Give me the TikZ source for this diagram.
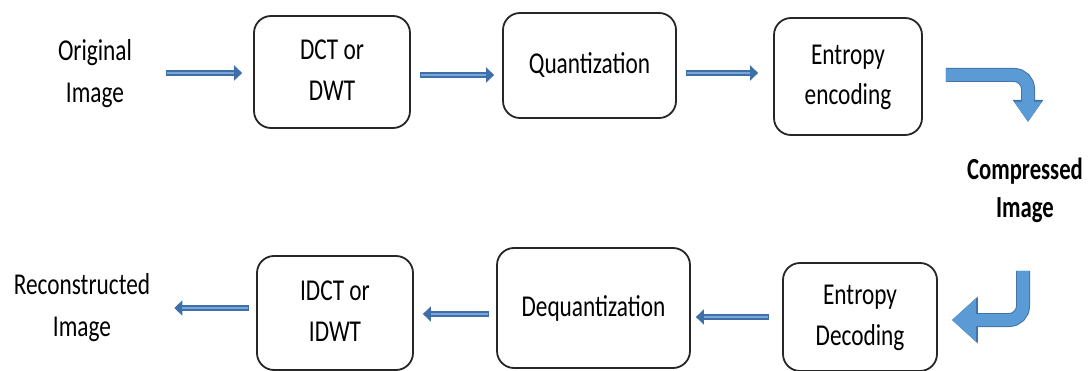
\documentclass[tikz,border=0pt]{standalone}
\usepackage{fontspec}
\setmainfont{Carlito}
\usetikzlibrary{arrows.meta}
\definecolor{arrD}{HTML}{3F6FA8}
\definecolor{arrL}{HTML}{7AA6D8}
\definecolor{bentF}{HTML}{5B9BD5}
\definecolor{bentD}{HTML}{4372A8}
\newcommand\lbl[2][1.3]{\scalebox{1}[#1]{\begin{tabular}{@{}c@{}}#2\end{tabular}}}
\tikzset{
  stage/.style={draw=black!85, line width=1.8pt, rounded corners=17pt, fill=white,
    inner sep=0pt, font=\fontsize{23.3}{31}\selectfont},
  plain/.style={inner sep=0pt, font=\fontsize{23.3}{32}\selectfont},
  thinarrow/.style 2 args={draw=arrD, line width=6pt, shorten <=#1, shorten >=#2,
    -{Triangle[length=8pt,width=15pt]},
    postaction={draw=arrL, line width=2.2pt, -, shorten <=#1+1pt, shorten >=#2+8pt}},
  bentarrow/.style 2 args={draw=bentF, line width=12pt, rounded corners=14pt,
    -{Triangle[length=#1,width=#2]},
    preaction={draw=bentD, line width=14pt, -{Triangle[length=#1+2pt,width=#2+3pt]}}},
}
\begin{document}
\begin{tikzpicture}[x=1pt,y=-1pt]
\useasboundingbox (0,0) rectangle (1092,371);
% top row
\node[plain] (orig) at (95,73) {\lbl{Original\\Image}};
\node[stage, minimum width=156pt, minimum height=112pt] (dct) at (332,72) {\lbl{DCT or\\DWT}};
\node[stage, minimum width=173pt, minimum height=105pt] (quant) at (589.5,65.5) {\lbl{Quantization}};
\node[stage, minimum width=148pt, minimum height=117pt] (enc) at (848,76.5) {\lbl{Entropy\\encoding}};
% middle
\node[plain, font=\fontsize{22.7}{28}\selectfont\bfseries] (comp) at (1025,191) {\lbl[1.35]{Compressed\\Image}};
% bottom row
\node[stage, minimum width=154pt, minimum height=108pt] (dec) at (860,317) {\lbl{Entropy\\Decoding}};
\node[stage, minimum width=193pt, minimum height=120pt] (deq) at (593.5,308) {\lbl{Dequantization}};
\node[stage, minimum width=156pt, minimum height=114pt] (idct) at (335,313) {\lbl{IDCT or\\IDWT}};
\node[plain] (recon) at (82,307) {\lbl{Reconstructed\\Image}};
% thin arrows
\draw[thinarrow={34pt}{11pt}] (orig.east) -- (orig.east -| dct.west);
\draw[thinarrow={9pt}{8pt}] ([yshift=-3pt]dct.east) -- ([yshift=-3pt]dct.east -| quant.west);
\draw[thinarrow={9pt}{15pt}] ([yshift=-7.5pt]quant.east) -- ([yshift=-7.5pt]quant.east -| enc.west);
\draw[thinarrow={13pt}{5pt}] (dec.west) -- (dec.west -| deq.east);
\draw[thinarrow={7pt}{9pt}] ([yshift=-6pt]deq.west) -- ([yshift=-6pt]deq.west -| idct.east);
\draw[thinarrow={7pt}{24pt}] ([yshift=5pt]idct.west) -- ([yshift=5pt]idct.west -| recon.east);
% bent arrows
\coordinate (c1) at (1028,122);
\coordinate (c2) at (1023,271);
\draw[bentarrow={20pt}{26pt}] ([xshift=23pt,yshift=1.5pt]enc.east) -| (c1);
\draw[bentarrow={24pt}{42pt}] (c2) |- ([xshift=14pt,yshift=-3pt]dec.east);
\end{tikzpicture}
\end{document}
